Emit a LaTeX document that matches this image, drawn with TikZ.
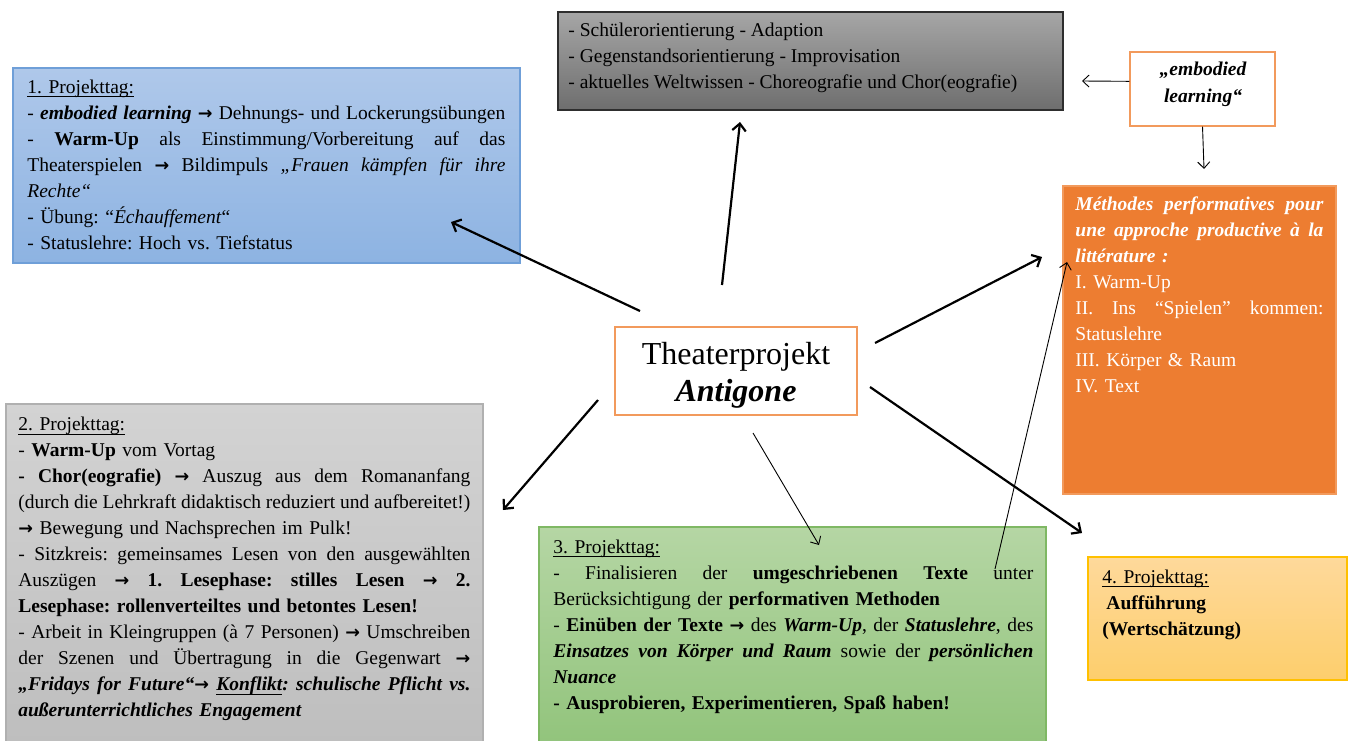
\documentclass[tikz,border=0pt]{standalone}
\usepackage{fontspec}
\setmainfont{Liberation Serif}
\newfontfamily\arrfont[Scale=0.9]{DejaVu Sans}
\usetikzlibrary{arrows.meta}
\definecolor{bluetop}{HTML}{AFC8EA}
\definecolor{bluebot}{HTML}{8DB3E2}
\definecolor{blueedge}{HTML}{6F9FD8}
\definecolor{dgraytop}{HTML}{A6A6A6}
\definecolor{dgraybot}{HTML}{6E6E6E}
\definecolor{dgrayedge}{HTML}{2E2E2E}
\definecolor{orfill}{HTML}{ED7D31}
\definecolor{oredge}{HTML}{F29A5C}
\definecolor{lgraytop}{HTML}{D3D3D3}
\definecolor{lgraybot}{HTML}{BEBEBE}
\definecolor{lgrayedge}{HTML}{B0B0B0}
\definecolor{greentop}{HTML}{B5D6A4}
\definecolor{greenbot}{HTML}{92C47C}
\definecolor{greenedge}{HTML}{7FB864}
\definecolor{yeltop}{HTML}{FED99B}
\definecolor{yelbot}{HTML}{FDCE6C}
\definecolor{yeledge}{HTML}{FFC000}
\newcommand\myarr{{\arrfont\bfseries\upshape →}}
\newcommand\jl[1]{\noindent\hbox to \linewidth{\spaceskip=0.25em plus 0.3em minus 0.16em\relax #1}\par}
\newcommand\nl[1]{\noindent\hbox{#1}\par}
\newcommand\ul[1]{\setbox0=\hbox{#1}\rlap{\rule[-1.9pt]{\wd0}{0.45pt}}\box0}
\begin{document}
\begin{tikzpicture}[x=0.5pt,y=-0.5pt,
  box/.style={draw, inner sep=0pt, outer sep=0pt, anchor=north west, line width=0.6pt},
  dayone/.style={box, draw=blueedge, top color=bluetop, bottom color=bluebot},
  topgray/.style={box, draw=dgrayedge, top color=dgraytop, bottom color=dgraybot},
  orbox/.style={box, draw=oredge, fill=orfill},
  daytwo/.style={box, draw=lgrayedge, top color=lgraytop, bottom color=lgraybot},
  daythree/.style={box, draw=greenedge, top color=greentop, bottom color=greenbot},
  dayfour/.style={box, draw=yeledge, top color=yeltop, bottom color=yelbot},
  whitebox/.style={draw=oredge, fill=white, inner sep=0pt, line width=0.6pt},
  txt/.style={inner sep=0pt, anchor=north west, font=\fontsize{9.75}{13}\selectfont,
    execute at begin node={\frenchspacing\parindent=0pt}},
  bigarrow/.style={line width=1.1pt, -{Straight Barb[length=3.6pt,width=6.8pt]}},
  thinarrow/.style={line width=0.45pt, -{Straight Barb[length=3.2pt,width=6pt]}}
]
\useasboundingbox (0,0) rectangle (1352,740);

% boxes
\node[dayone, minimum width=253.5pt, minimum height=97.5pt] (d1) at (13,68) {};
\node[topgray, minimum width=252.5pt, minimum height=49pt] (tg) at (558,12) {};
\node[orbox, minimum width=136.5pt, minimum height=154pt] (ob) at (1063,186) {};
\node[daytwo, minimum width=238.5pt, minimum height=170pt] (d2) at (6,404) {};
\node[daythree, minimum width=253.5pt, minimum height=108pt] (d3) at (539,527) {};
\node[dayfour, minimum width=129.5pt, minimum height=61.5pt] (d4) at (1088,557) {};
\node[whitebox, minimum width=72.5pt, minimum height=37pt] (emb) at (1202.5,89) {};
\node[whitebox, minimum width=121pt, minimum height=44pt] (ctr) at (736,371) {};
\node[align=center, inner sep=0pt, font=\fontsize{16}{18.5}\selectfont] (ctrt) at (736,375)
  {Theaterprojekt\\\textbf{\textit{Antigone}}};

% texts
\node[txt, text width=239pt] (t1) at (27,79.5) {%
\nl{\ul{1. Projekttag:}}
\jl{- \textbf{\textit{embodied learning}} \myarr{} Dehnungs- und Lockerungsübungen}
\jl{- \textbf{Warm-Up} als Einstimmung/Vorbereitung auf das}
\jl{Theaterspielen \myarr{} Bildimpuls \textit{„Frauen kämpfen für ihre}}
\nl{\textit{Rechte“}}
\nl{- Übung: “\textit{Échauffement}“}
\nl{- Statuslehre: Hoch vs. Tiefstatus}};

\node[txt, align=left] (ttg) at (568,23) {%
- Schülerorientierung - Adaption\\
- Gegenstandsorientierung - Improvisation\\
- aktuelles Weltwissen - Choreografie und Chor(eografie)};

\node[txt, anchor=center, align=center, font=\fontsize{9.75}{13.5}\selectfont\bfseries\itshape] (temb) at (1203,84) {„embodied\\learning“};

\node[txt, text width=124pt, text=white] (tob) at (1075,196) {%
\jl{\bfseries\itshape Méthodes performatives pour}
\jl{\bfseries\itshape une approche productive à la}
\nl{\bfseries\itshape littérature :}
\nl{I. Warm-Up}
\jl{II. Ins “Spielen” kommen:}
\nl{Statuslehre}
\nl{III. Körper \& Raum}
\nl{IV. Text}};

\node[txt, text width=226pt] (t2) at (18,417) {%
\nl{\ul{2. Projekttag:}}
\nl{- \textbf{Warm-Up} vom Vortag}
\jl{\textbf{- Chor(eografie)} \myarr{} Auszug aus dem Romananfang}
\jl{(durch die Lehrkraft didaktisch reduziert und aufbereitet!)}
\nl{\myarr{} Bewegung und Nachsprechen im Pulk!}
\jl{- Sitzkreis: gemeinsames Lesen von den ausgewählten}
\jl{Auszügen \myarr{} \textbf{1. Lesephase: stilles Lesen \myarr{} 2.}}
\nl{\textbf{Lesephase: rollenverteiltes und betontes Lesen!}}
\jl{- Arbeit in Kleingruppen (à 7 Personen) \myarr{} Umschreiben}
\jl{der Szenen und Übertragung in die Gegenwart \myarr{}}
\jl{\bfseries\itshape „Fridays for Future“\myarr{} \ul{Konflikt}: schulische Pflicht vs.}
\nl{\bfseries\itshape außerunterrichtliches Engagement}};

\node[txt, text width=240pt] (t3) at (553,539.5) {%
\nl{\ul{3. Projekttag:}}
\jl{- Finalisieren der \textbf{umgeschriebenen Texte} unter}
\nl{Berücksichtigung der \textbf{performativen Methoden}}
\jl{- \textbf{Einüben der Texte} \myarr{} des \textbf{\textit{Warm-Up}}, der \textbf{\textit{Statuslehre}}, des}
\jl{\textbf{\textit{Einsatzes von Körper und Raum}} sowie der \textbf{\textit{persönlichen}}}
\nl{\textbf{\textit{Nuance}}}
\nl{\textbf{- Ausprobieren, Experimentieren, Spaß haben!}}};

\node[txt, text width=120pt] (t4) at (1102,569.5) {%
\nl{\ul{4. Projekttag:}}
\nl{\hspace*{2pt}\textbf{Aufführung}}
\nl{\textbf{(Wertschätzung)}}};

% arrow end points
\coordinate (c1) at (640,311); \coordinate (e1) at (451,222);
\coordinate (c2) at (722,285); \coordinate (e2) at (740,122);
\coordinate (c3) at (875,343); \coordinate (e3) at (1042,257);
\coordinate (c4) at (598,400); \coordinate (e4) at (503,510);
\coordinate (c5) at (870,387); \coordinate (e5) at (1082,533);
\coordinate (c6) at (753,433); \coordinate (e6) at (819,545);
\coordinate (g1) at (995,569); \coordinate (e7) at (1067,262);
\coordinate (e8) at (1082,81);
\coordinate (e9) at (1204,169);

\draw[bigarrow] (c1) -- (e1);
\draw[bigarrow] (c2) -- (e2);
\draw[bigarrow] (c3) -- (e3);
\draw[bigarrow] (c4) -- (e4);
\draw[bigarrow] (c5) -- (e5);
\draw[thinarrow] (c6) -- (e6);
\draw[thinarrow] (g1) -- (e7);
\draw[thinarrow] (emb.174) -- (e8);
\draw[thinarrow] (emb.south) -- (e9);
\end{tikzpicture}
\end{document}
